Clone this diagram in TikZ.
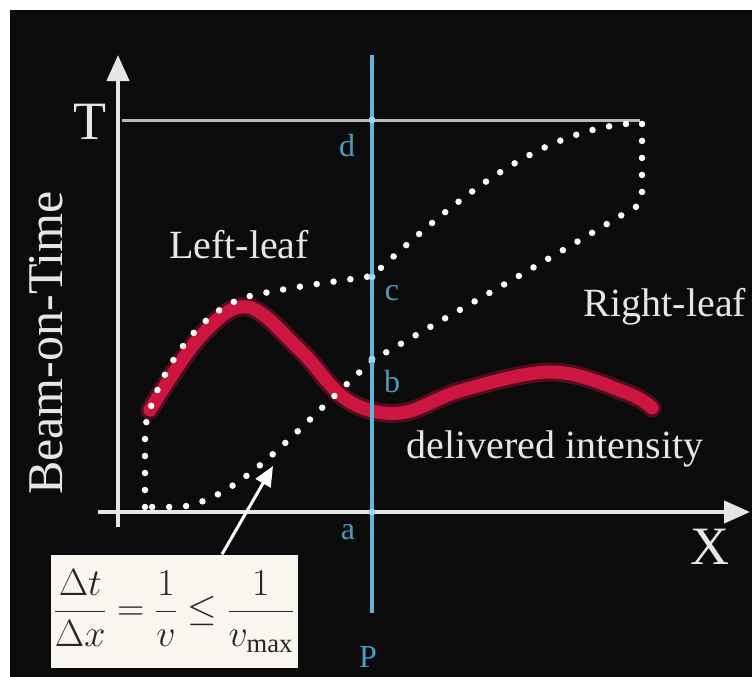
\RequirePackage{fix-cm}
\documentclass[tikz,border=0pt]{standalone}
\usepackage{amsmath}
\usepackage{fontspec}
\setmainfont{Liberation Serif}
\usetikzlibrary{arrows.meta}
\definecolor{bgblack}{HTML}{0B0B0B}
\definecolor{leafwhite}{HTML}{E6E6E6}
\definecolor{pblue}{HTML}{5DB6D8}
\definecolor{lblblue}{HTML}{4A9CBE}
\definecolor{intred}{HTML}{CC1640}
\definecolor{boxwhite}{HTML}{F8F6EE}
\tikzset{
  axis/.style={leafwhite,line width=4pt,-{Triangle[length=26pt,width=22pt]}},
  lbl/.style={text=leafwhite,font=\fontsize{40}{44}\selectfont,inner sep=0pt},
  bigl/.style={lbl,font=\fontsize{54}{58}\selectfont},
  ptl/.style={text=lblblue,font=\fontsize{32}{36}\selectfont,inner sep=0pt},
  leafdots/.style={white,line width=6.5pt,line cap=round,dash pattern=on 0pt off 17pt},
  hit/.style={circle,fill=pblue!60!white,inner sep=0pt,minimum size=7pt},
  eqbox/.style={fill=boxwhite,text=black!85,minimum width=247pt,minimum height=113pt,inner sep=2pt,font=\fontsize{38}{42}\selectfont},
}
\begin{document}
\begin{tikzpicture}[x=1pt,y=-1pt]
  \fill[white] (0,0) rectangle (752,677);
  \fill[bgblack] (10,10) rectangle (752,677);
  \useasboundingbox (0,0) rectangle (752,677);
  % axes and the T level
  \coordinate (ybot) at (118,527); \coordinate (ytip) at (118,55);
  \coordinate (xbot) at (98,512);  \coordinate (xtip) at (750,512);
  \coordinate (t0) at (122,120);   \coordinate (t1) at (640,120);
  \draw[axis] (ybot) -- (ytip);
  \draw[axis] (xbot) -- (xtip);
  \draw[leafwhite!80!black,line width=3pt] (t0) -- (t1);
  \node[bigl] (T) at (90,122) {T};
  \node[bigl] (X) at (710,547) {X};
  \node[lbl,rotate=90,font=\fontsize{50}{54}\selectfont] (ylab) at (46,343) {Beam-on-Time};
  % delivered intensity
  \draw[intred,line width=19pt,line cap=round,opacity=0.35] plot[smooth,tension=0.6] coordinates {(150,410) (200,337) (247,307) (300,350) (347,400) (400,413) (463,390) (553,372) (627,393) (652,408)};
  \draw[intred,line width=13pt,line cap=round] plot[smooth,tension=0.6] coordinates {(150,410) (200,337) (247,307) (300,350) (347,400) (400,413) (463,390) (553,372) (627,393) (652,408)};
  % leaf trajectories
  \draw[leafdots] (145,507) -- (145,428)
    .. controls (155,380) and (195,310) .. (250,296)
    .. controls (290,287) and (340,281) .. (372,276)
    .. controls (450,205) and (540,125) .. (642,123)
    -- (642,196) .. controls (640,205) .. (630,210)
    .. controls (540,265) and (450,315) .. (373,360)
    .. controls (300,425) and (240,500) .. (180,507) -- cycle;
  \node[lbl] (lleaf) at (239,245) {Left-leaf};
  \node[lbl] (rleaf) at (665,307) {Right-leaf};
  \node[lbl] (deliv) at (555,449) {delivered intensity};
  % the line P
  \coordinate (ptop) at (372,55); \coordinate (pbot) at (372,613);
  \draw[pblue,line width=4pt] (ptop) -- (pbot);
  \node[hit] (a) at (372,512) {};
  \node[hit] (b) at (372,359) {};
  \node[hit] (c) at (372,277) {};
  \node[hit] (d) at (372,120) {};
  \node[ptl] (la) at (348,532) {a};
  \node[ptl] (lb) at (392,382) {b};
  \node[ptl] (lc) at (392,293) {c};
  \node[ptl] (ld) at (347,146) {d};
  \node[ptl] (lp) at (368,657) {P};
  % speed limit
  \node[eqbox] (eq) at (174,611) {$\dfrac{\Delta t}{\Delta x}=\dfrac{1}{v}\le\dfrac{1}{v_{\max}}$};
  \coordinate (slope) at (273,466);
  \draw[white,line width=3pt,-{Triangle[length=20pt,width=17pt]}] ([xshift=48pt]eq.north) -- (slope);
\end{tikzpicture}
\end{document}
